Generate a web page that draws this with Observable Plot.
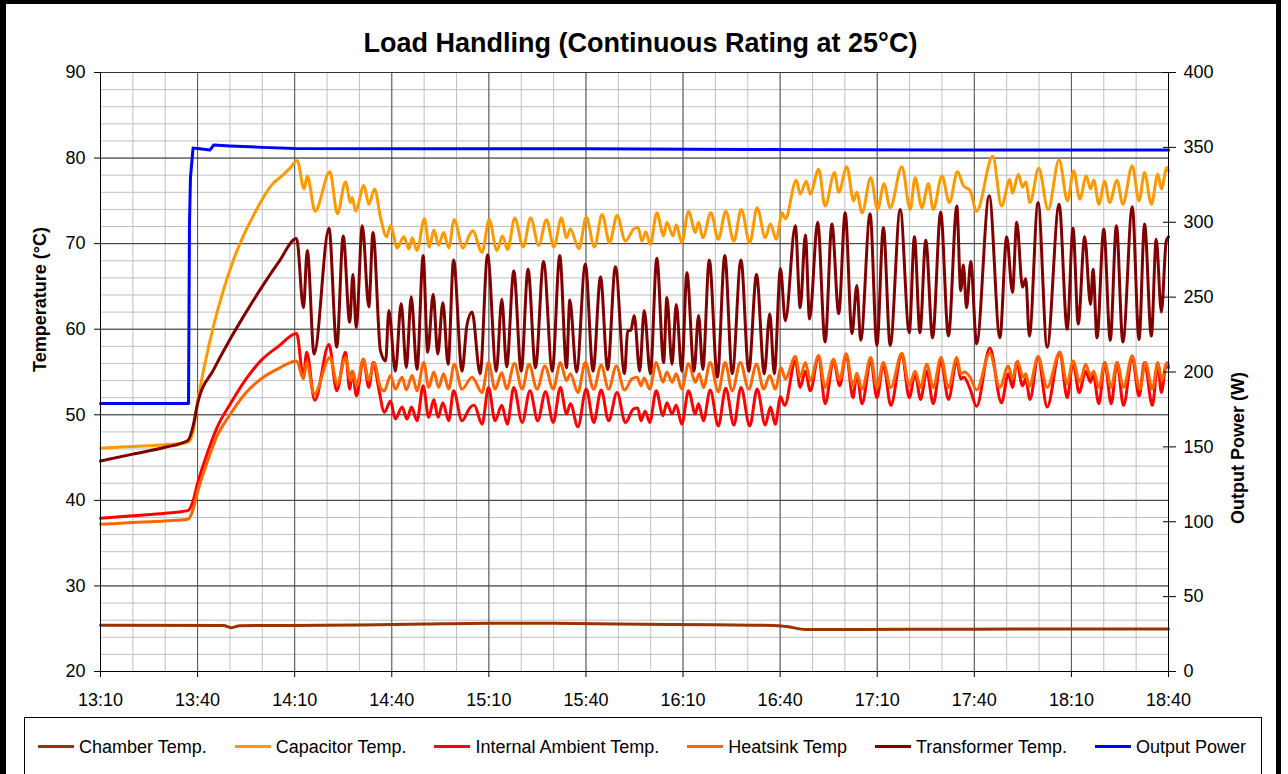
<!DOCTYPE html>
<html><head><meta charset="utf-8">
<script src="https://cdn.jsdelivr.net/npm/d3@7"></script>
<script src="https://cdn.jsdelivr.net/npm/@observablehq/plot@0.6"></script>
<style>
body{margin:0;background:#fff;font-family:"Liberation Sans",Arial,sans-serif;}
#page{position:relative;width:1288px;height:774px;overflow:hidden;background:#fff;}
#frame{position:absolute;left:0;top:0;width:1281px;height:800px;box-sizing:border-box;border:5px solid #000;border-top-width:4px;border-left-width:6px;}
#title{position:absolute;left:0;width:1281px;top:28px;text-align:center;font-weight:bold;font-size:27px;line-height:30px;}
#chart{position:absolute;left:0;top:60px;}
#legend{position:absolute;left:24px;top:717px;width:1238px;height:80px;box-sizing:border-box;border:1px solid #000;}
#items{position:absolute;left:13px;top:18.5px;display:flex;gap:28px;font-size:18px;line-height:20px;white-space:nowrap;}
.item{display:flex;align-items:center;}
.sw{width:36px;height:3px;margin-right:5px;}
</style></head>
<body>
<div id="page">
<div id="frame"></div>
<div id="title">Load Handling (Continuous Rating at 25°C)</div>
<div id="chart"></div>
<div id="legend"><div id="items"></div></div>
</div>
<script>
// time in minutes after 13:10
const xTicks = [0,30,60,90,120,150,180,210,240,270,300,330];
const xTickLabels = ["13:10","13:40","14:10","14:40","15:10","15:40","16:10","16:40","17:10","17:40","18:10","18:40"];
const tempTicks = [20,30,40,50,60,70,80,90];
const powerTicks = [0,50,100,150,200,250,300,350,400];

const seriesNames = ["Chamber Temp.","Capacitor Temp.","Internal Ambient Temp.","Heatsink Temp","Transformer Temp.","Output Power"];
const seriesColors = ["#993300","#FF9900","#FF0000","#FF6600","#800000","#0000FF"];

const chamber = [[0,25.4],[38,25.38],[40.5,25.12],[43,25.35],[60,25.38],[80,25.42],[100,25.55],[120,25.65],[140,25.64],[160,25.55],[190,25.45],[208,25.38],[212,25.25],[218,24.92],[250,24.93],[290,24.97],[330,24.97]];

const capacitor = [[0,46.1],[10,46.3],[20,46.5],[27,46.8],[28.5,47.8],[30,51.5],[32,55.5],[35,60.5],[38,64.6],[41,68],[44,70.8],[47,73.1],[50,75.2],[53,76.9],[56,77.9],[58.5,78.8],[60.8,79.7],
[62.9,76.4],[63.9,77.9],[66.3,73.8],[70.9,78.4],[73.2,73.5],[75.7,77.2],[77.3,74.8],[77.8,75.4],[78.8,73.8],[81.4,76.8],[82.9,74.6],[84.7,76.4],[86.5,73.1],[88.4,70.8],[89.6,72.1],[91.7,69.5],[93.7,70.8],[95.3,69.4],[96.3,70.7],[97.8,69.2],[100.1,72.9],[101.6,69.6],[103,71.6],[104.5,69.8],[106,71.3],[107.6,69.5],[109.3,72.8],[112,69.5],[114,71.0],[115,71.5],[117.9,69.0],[120.1,72.8],[122.5,69.2],[124.2,70.9],[125.8,69.3],[128,73],[130.6,69.6],[132.9,73],[135.4,69.8],[137.8,72.8],[140.1,69.6],[142.4,73],[144,70.7],[145.2,71.7],[147.8,69.4],[150.1,73.1],[152.6,69.6],[155,73.4],[157.3,70.1],[159.6,73.3],[162.2,70.3],[164.7,71.7],[166.1,71.9],[167.3,70.3],[168.5,71.4],[169.9,69.9],[171.9,73.6],[174,70.9],[175,72.5],[176.9,70.9],[177.9,72.2],[179.6,70.1],[181.7,73.8],[183.8,71.3],[184.8,72.5],[186.1,70.7],[188.6,73.6],[190.9,70.5],[193.2,73.8],[195.7,70.3],[198,74],[200.6,70.1],[202.9,74.2],[205.4,70.7],[207,72.3],[208.8,70.5],[210.6,73.6],[211.6,72.9],[215,77.4],[216.2,75.8],[218.1,77.3],[219.3,75.8],[221.9,78.7],[223.9,74.4],[226.8,78.3],[228.1,76],[230.6,79],[232.7,75],[233.7,76],[235.3,73.6],[238,77.7],[240.1,74],[242.1,77],[244,74.2],[247.6,79],[250.2,74],[251.7,77.7],[253.8,74.2],[255.8,77],[257.3,74],[260,77.9],[262.3,74.8],[264.8,78.4],[266.6,76.8],[268.7,76.2],[270.7,73.8],[275.7,80.2],[278.4,74.4],[281,77.5],[281.8,75.9],[283.6,78.1],[284.9,76.6],[285.9,77.2],[287.2,74.8],[289.9,78.8],[292.8,74],[296.2,79.8],[298.8,75],[300.7,78.5],[302.6,75.2],[304.6,77.9],[305.9,76.4],[306.9,77.4],[308.5,74.6],[310.3,77.3],[311.8,74.8],[314.1,77.4],[315.9,74.6],[318.8,79.1],[320.9,75],[322.6,78.3],[324.7,74.6],[326.7,78.1],[327.8,76.4],[329.5,78.9],[330,78.5]];

const internalAmbient = [[0,37.9],[10,38.2],[20,38.5],[27,38.8],[28.5,39.8],[30,42],[33,45.5],[36,48.5],[40,51.2],[45,54.2],[50,56.5],[55,58],[60.6,59.5],
[62.7,54.4],[63.7,57.3],[66.2,51.7],[70.6,58.2],[73,52.8],[75.7,57.3],[77,53],[77.8,55.1],[79.1,52.2],[81.2,56.5],[82.9,53.2],[84.3,56.1],[86,53],[87.7,50.3],[89.6,51.6],[91.1,49.5],[93.2,50.9],[94.7,49.5],[96.1,50.9],[97.8,49.3],[99.7,53.4],[101.4,49.7],[103,51.8],[104.3,49.7],[105.8,51.4],[107.6,49.3],[109.1,52.8],[111.7,49.3],[114.3,50.9],[115.5,51.1],[117.9,48.9],[119.9,53.2],[121.9,49.3],[124,51.1],[125.7,48.9],[127.7,53.2],[130.3,49.1],[132.7,52.8],[135.1,49.3],[137.5,52.7],[139.9,49.1],[142.1,53.2],[144,50.1],[145.2,51.3],[147.5,48.6],[150.1,53],[152.4,49.1],[154.7,52.9],[157,49.3],[159.6,52.6],[162.2,49.1],[164.7,50.7],[166,50.8],[167,49.3],[168.3,50.4],[169.7,49.1],[171.7,52.8],[173.8,49.9],[175,51.4],[176.6,50.1],[177.9,51.1],[179.6,48.9],[181.7,52.8],[183.8,50.1],[184.8,51.3],[186.3,49.3],[188.4,52.9],[190.9,48.7],[193.2,53.1],[195.7,48.8],[197.9,53.2],[200.6,48.7],[202.9,53],[205.4,48.8],[207,50.9],[208.5,48.9],[210.1,52.1],[211.4,51.1],[214.7,56.3],[216.2,53.2],[217.8,55.1],[219.3,52.8],[221.9,56.9],[223.9,51.3],[226.5,56.3],[228.4,53.4],[230.4,57.1],[232.5,52],[233.7,54.8],[235.3,51.3],[238,56.3],[239.9,52],[241.9,55.9],[244.2,51.1],[247.6,57.1],[249.9,52],[251.7,54.8],[253.4,51.8],[255.3,55.1],[257.3,51.3],[259.7,56.3],[262,51.8],[264.6,56.3],[265.8,54.2],[266.8,54.4],[268.7,53],[270.7,51],[274.8,57.8],[278.4,51.4],[280.5,54.8],[281.8,53.2],[283.1,56.1],[284.9,53.4],[285.9,54.2],[287.2,51.8],[289.7,56.7],[292.5,50.9],[296.4,57.3],[298.7,52],[300.5,56.1],[302.4,52.6],[304.4,55.1],[305.9,53.8],[306.7,54.8],[308.5,51.3],[310.3,56.1],[312.3,51.3],[314.1,56.1],[316.1,51.1],[318.8,56.7],[320.9,52.2],[322.6,56.1],[325,51.1],[326.7,55.9],[327.8,52.6],[329.3,55.9],[330,55.5]];

const heatsink = [[0,37.2],[10,37.4],[20,37.6],[27,37.8],[28.5,38.8],[30,41],[33,44.5],[36,47.5],[40,50],[45,52.6],[50,54.3],[55,55.4],[60.6,56.3],
[62.7,54.2],[63.7,56.1],[66,52.4],[70.9,56.7],[73.2,53.6],[75.7,56.7],[77.3,54],[78,55.1],[79.1,53.4],[81.2,56.5],[82.9,54],[84.5,56.1],[86.5,53.2],[87.7,52.8],[89.6,54.6],[91.1,53],[93.2,54.4],[94.5,52.9],[96.3,54.6],[97.8,52.8],[99.9,56.1],[101.4,53.2],[103,55],[104.5,53.2],[106,54.8],[107.6,53],[109.3,55.9],[111.7,53],[114.8,54.4],[117.9,52.6],[119.9,56.1],[121.9,53],[124,54.9],[125.5,53],[127.9,56],[130.3,53],[132.4,55.9],[134.9,53],[137.3,55.7],[139.9,53],[142.1,56.1],[144,54],[145.2,54.8],[147.5,52.6],[149.8,56.1],[152.4,53],[154.7,55.8],[157,53],[159.4,55.7],[161.9,52.9],[164.2,54.2],[165.8,54.4],[167,53.4],[168,54.3],[169.7,53],[171.7,56.1],[173.8,53.8],[175,55],[176.6,53.8],[177.9,54.8],[179.6,53],[181.7,56],[183.8,53.8],[185,54.8],[186.3,53.2],[188.4,56.1],[190.9,52.7],[193,56.1],[195.2,52.8],[197.7,56.1],[200.3,53],[202.7,55.9],[204.9,53],[206.8,54.6],[208.5,53],[210.3,55.5],[211.6,54.2],[214.7,56.8],[216.2,54.4],[217.8,56.1],[219.3,54],[221.9,56.9],[223.9,53.2],[226.5,56.5],[228.4,54.1],[230.4,57.1],[232.5,53.4],[233.7,54.8],[235.3,53],[238,56.7],[239.9,53.2],[241.9,56.1],[244.2,53.2],[247.6,57.2],[249.9,53.4],[251.7,55.1],[253.4,53.2],[255.3,55.9],[257.3,53.2],[259.7,56.7],[262,53.2],[264.6,56.7],[265.8,54.8],[267,55],[268.7,54.4],[270.7,52.9],[274.8,57.2],[277.9,53.2],[280.5,55.7],[281.8,54.2],[283.3,56.3],[285.1,54.4],[285.9,54.8],[287,53.3],[289.7,56.8],[292.5,53.2],[296.4,57.3],[298.7,53.6],[300.5,56.3],[302.6,53.8],[304.4,55.9],[305.9,54.6],[306.9,55.1],[308.5,53.2],[310.3,56.1],[312.3,53.2],[314.1,56.1],[316.1,53.2],[318.8,56.9],[321.1,53],[322.9,56.1],[325,53],[326.7,56.1],[328,54],[329.5,56.1],[330,55.8]];

const transformer = [[0,44.6],[10,45.4],[20,46.2],[27,47],[28.5,48.5],[30,51.3],[35,55.3],[40,58.8],[45,62],[50,65],[55,67.8],[60.6,70.6],
[62.7,62.5],[63.9,69.2],[66,57.1],[70.6,71.8],[73,57.9],[75,70.9],[77,60.8],[78,66.4],[79,60.2],[80.9,72.1],[82.9,62.6],[84.2,71.3],[86.5,57.5],[88.1,56.3],[89.1,62.2],[91.1,55.1],[92.9,63],[94.5,55.5],[96,63.8],[97.8,55.3],[99.7,68.6],[101.1,57.3],[102.8,64.1],[104.2,57.1],[105.8,63.1],[107.4,55.9],[109.1,68.1],[111.7,55.1],[113.2,60.4],[114.8,62],[117.3,54.8],[119.6,68.7],[122.3,55.1],[124,63.5],[125.5,55.6],[127.7,66.8],[130,55.1],[132.1,67],[134.4,55.5],[136.9,67.9],[139.6,55.1],[141.9,68.6],[144,55.5],[145,63.4],[147.1,55],[149.8,67.6],[152.2,55.1],[154.5,66.1],[156.7,55.3],[159.1,67.3],[161.9,54.8],[162.9,59.8],[163.9,59.9],[164.9,61.6],[166.6,55.1],[168,62.2],[169.9,54.8],[171.9,68.3],[174,56.1],[175,63.7],[176.6,55.9],[177.9,62.9],[179.6,55.1],[181.2,66.6],[183.4,55.1],[184.8,61.6],[186.1,55.3],[188.1,68.1],[190.6,54.4],[192.9,68.6],[195.2,54.8],[197.9,68.1],[200.3,55.1],[202.7,66.4],[205.1,54.8],[206.8,61.8],[208.2,54.8],[210.1,67.1],[211.6,61],[214.7,72.1],[216.2,62.5],[217.8,71],[219.1,61.2],[221.6,72.5],[223.9,58.5],[226,72.3],[228.1,61.8],[230.1,73.6],[232.2,59.5],[233.7,65.1],[234.9,58.7],[237.8,73.5],[239.9,58.1],[241.9,71.9],[244,58.1],[247.1,74],[249.9,59.6],[251.5,70.8],[253.2,59.6],[255,70.4],[257.1,59],[259.6,73.7],[262,59.2],[264.6,74.4],[265.8,64.5],[266.6,67.5],[267.6,62.5],[268.9,67.9],[270.7,58.3],[274.6,75.6],[277.9,59],[280,70.8],[281.8,64.3],[283.1,72.5],[284.9,64.9],[285.9,65.9],[287,59.2],[289.7,74.8],[292.5,57.9],[296.2,74.6],[298.7,60],[300.5,71.8],[302.1,60.6],[304.1,70.8],[305.9,62.9],[306.7,67],[307.9,59],[310,71.7],[312,58.7],[313.9,72.1],[315.9,58.5],[318.8,74.3],[320.9,58.8],[322.6,72.3],[324.7,59.2],[326.2,70.5],[327.8,62],[329.3,70.3],[330,70.8]];

// Output power in watts (right axis)
const outputPower = [[0,179],[27.2,179],[27.5,300],[27.8,330],[28.6,349.5],[30,349.3],[33.8,348.2],[35,351.6],[40,351],[50,350],[60,349.3],[100,349],[150,349],[200,348.6],[260,348.3],[330,348.3]];

const tempSeries = [chamber, capacitor, internalAmbient, heatsink, transformer];
const toY = w => 20 + w * 70 / 400;

const lineMarks = tempSeries.map((s, i) =>
  Plot.line(s, {x: d => d[0], y: d => d[1], stroke: seriesColors[i], strokeWidth: 3, curve: "monotone-x"}));
lineMarks.push(Plot.line(outputPower, {x: d => d[0], y: d => toY(d[1]), stroke: seriesColors[5], strokeWidth: 3}));

const chart = Plot.plot({
  width: 1288, height: 652,
  marginLeft: 100, marginRight: 120, marginTop: 12, marginBottom: 41,
  style: {fontFamily: '"Liberation Sans", Arial, sans-serif', fontSize: "18px", color: "#000", background: "transparent", overflow: "visible"},
  x: {domain: [0, 330]},
  y: {domain: [20, 90]},
  marks: [
    Plot.ruleX(d3.range(0, 331, 10), {stroke: "#c0c0c0", strokeWidth: 1}),
    Plot.ruleY(d3.range(20, 90.1, 2), {stroke: "#c0c0c0", strokeWidth: 1}),
    Plot.ruleX(xTicks, {stroke: "#555", strokeWidth: 1}),
    Plot.ruleY(tempTicks, {stroke: "#333", strokeWidth: 1}),
    ...lineMarks,
    Plot.ruleX([0, 330], {stroke: "#000", strokeWidth: 1}),
    Plot.ruleY([20], {stroke: "#000", strokeWidth: 1}),
    Plot.axisX({ticks: xTicks, tickFormat: d => xTickLabels[xTicks.indexOf(d)], tickSize: 6, tickPadding: 16, label: null, stroke: "#000"}),
    Plot.axisY({ticks: tempTicks, tickSize: 6, tickPadding: 9, label: null, stroke: "#000"}),
    Plot.axisY({anchor: "right", ticks: powerTicks.map(toY), tickFormat: d => String(powerTicks[powerTicks.map(toY).findIndex(v => Math.abs(v - d) < 1e-6)]), tickSize: 13, dx: -6, tickPadding: 8, label: null, stroke: "#000"}),
    Plot.text(["Temperature (°C)"], {frameAnchor: "left", rotate: -90, dx: -60, fontWeight: "bold", fontSize: 18}),
    Plot.text(["Output Power (W)"], {frameAnchor: "right", rotate: -90, dx: 70, fontWeight: "bold", fontSize: 18})
  ]
});
document.getElementById("chart").appendChild(chart);

const items = document.getElementById("items");
seriesNames.forEach((n, i) => {
  const it = document.createElement("div");
  it.className = "item";
  const sw = document.createElement("div");
  sw.className = "sw";
  sw.style.background = seriesColors[i];
  const tx = document.createElement("span");
  tx.textContent = n;
  it.appendChild(sw); it.appendChild(tx);
  items.appendChild(it);
});
</script>
</body></html>
